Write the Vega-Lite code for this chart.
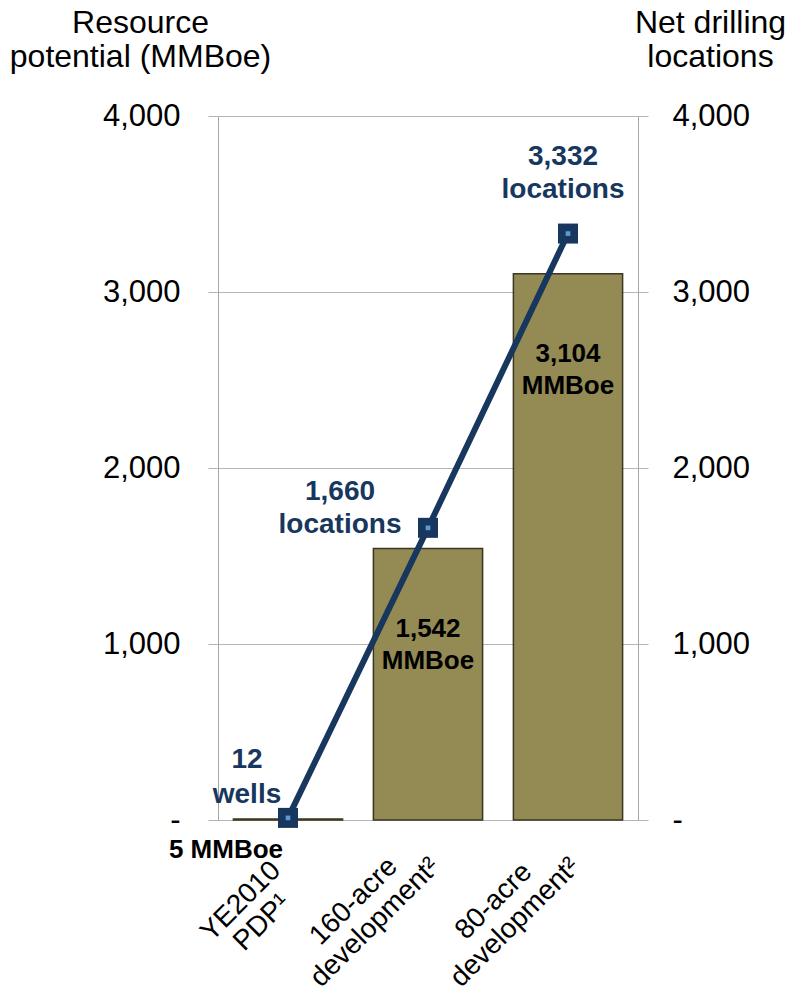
{
  "$schema": "https://vega.github.io/schema/vega-lite/v6.json",
  "width": 420,
  "height": 704,
  "autosize": {"type": "none"},
  "padding": {"left": 218, "top": 116, "right": 148, "bottom": 175},
  "background": "white",
  "config": {"view": {"stroke": null}, "font": "Liberation Sans"},
  "data": {
    "values": [
      {"category": "YE2010|PDP¹", "mmboe": 5, "locations": 12, "mmboe_label": "5 MMBoe", "loc_label": "12\nwells"},
      {"category": "160-acre|development²", "mmboe": 1542, "locations": 1660, "mmboe_label": "1,542\nMMBoe", "loc_label": "1,660\nlocations"},
      {"category": "80-acre|development²", "mmboe": 3104, "locations": 3332, "mmboe_label": "3,104\nMMBoe", "loc_label": "3,332\nlocations"}
    ]
  },
  "encoding": {
    "x": {
      "field": "category",
      "type": "nominal",
      "sort": null,
      "scale": {"paddingInner": 0.22, "paddingOuter": 0.11},
      "axis": {
        "title": null,
        "domain": false,
        "ticks": false,
        "labelAngle": -45,
        "labelAlign": "center",
        "labelBaseline": "middle",
        "labelFontSize": 28,
        "labelColor": "black",
        "labelPadding": 81,
        "labelLineHeight": 30,
        "labelOffset": {"condition": {"test": "datum.value == 'YE2010|PDP¹'", "value": -47}, "value": -74},
        "labelExpr": "split(datum.value, '|')"
      }
    }
  },
  "layer": [
    {
      "layer": [
        {
          "mark": {"type": "bar", "color": "#948A54", "stroke": "#3A3622", "strokeWidth": 1.5},
          "encoding": {
            "y": {
              "field": "mmboe",
              "type": "quantitative",
              "scale": {"domain": [0, 4000], "nice": false},
              "axis": {
                "orient": "left",
                "values": [0, 1000, 2000, 3000, 4000],
                "labelExpr": "datum.value == 0 ? '-' : format(datum.value, ',')",
                "labelFontSize": 31,
                "labelColor": "black",
                "labelPadding": 28,
                "tickSize": 10,
                "tickColor": "#b4b4b4",
                "domainColor": "#a6a6a6",
                "grid": true,
                "gridColor": "#b4b4b4",
                "title": ["Resource", "potential (MMBoe)"],
                "titleAngle": 0,
                "titleAlign": "center",
                "titleBaseline": "top",
                "titleX": -78,
                "titleY": -109,
                "titleFontSize": 32,
                "titleFontWeight": "normal",
                "titleColor": "black",
                "titleLineHeight": 34
              }
            }
          }
        },
        {
          "transform": [{"filter": "datum.mmboe > 100"}],
          "mark": {"type": "text", "lineBreak": "\n", "fontSize": 26, "fontWeight": "bold", "color": "black", "baseline": "middle", "lineHeight": 32, "dy": 80},
          "encoding": {
            "y": {"field": "mmboe", "type": "quantitative"},
            "text": {"field": "mmboe_label"}
          }
        },
        {
          "transform": [{"filter": "datum.mmboe <= 100"}],
          "mark": {"type": "text", "fontSize": 26, "fontWeight": "bold", "color": "black", "baseline": "middle", "dy": 31, "dx": -62},
          "encoding": {
            "y": {"field": "mmboe", "type": "quantitative"},
            "text": {"field": "mmboe_label"}
          }
        }
      ]
    },
    {
      "layer": [
        {
          "mark": {"type": "line", "color": "#17375E", "strokeWidth": 6},
          "encoding": {
            "y": {
              "field": "locations",
              "type": "quantitative",
              "scale": {"domain": [0, 4000], "nice": false},
              "axis": {
                "orient": "right",
                "values": [0, 1000, 2000, 3000, 4000],
                "labelExpr": "datum.value == 0 ? '-' : format(datum.value, ',')",
                "labelFontSize": 31,
                "labelColor": "black",
                "labelPadding": 24,
                "tickSize": 10,
                "tickColor": "#b4b4b4",
                "domainColor": "#a6a6a6",
                "grid": false,
                "title": ["Net drilling", "locations"],
                "titleAngle": 0,
                "titleAlign": "center",
                "titleBaseline": "top",
                "titleX": 72,
                "titleY": -109,
                "titleFontSize": 32,
                "titleFontWeight": "normal",
                "titleColor": "black",
                "titleLineHeight": 34
              }
            }
          }
        },
        {
          "mark": {"type": "point", "shape": "square", "size": 400, "filled": true, "color": "#17375E", "opacity": 1},
          "encoding": {"y": {"field": "locations", "type": "quantitative"}}
        },
        {
          "mark": {"type": "point", "shape": "square", "size": 22, "filled": true, "color": "#5B9BD5", "opacity": 1},
          "encoding": {"y": {"field": "locations", "type": "quantitative"}}
        },
        {
          "transform": [{"filter": "datum.locations < 100"}],
          "mark": {"type": "text", "lineBreak": "\n", "fontSize": 28, "fontWeight": "bold", "color": "#17375E", "baseline": "middle", "lineHeight": 35, "dx": -41, "dy": -58},
          "encoding": {"y": {"field": "locations", "type": "quantitative"}, "text": {"field": "loc_label"}}
        },
        {
          "transform": [{"filter": "datum.locations > 1000 && datum.locations < 2000"}],
          "mark": {"type": "text", "lineBreak": "\n", "fontSize": 28, "fontWeight": "bold", "color": "#17375E", "baseline": "middle", "lineHeight": 33, "dx": -88, "dy": -36},
          "encoding": {"y": {"field": "locations", "type": "quantitative"}, "text": {"field": "loc_label"}}
        },
        {
          "transform": [{"filter": "datum.locations > 3000"}],
          "mark": {"type": "text", "lineBreak": "\n", "fontSize": 28, "fontWeight": "bold", "color": "#17375E", "baseline": "middle", "lineHeight": 33, "dx": -5, "dy": -77},
          "encoding": {"y": {"field": "locations", "type": "quantitative"}, "text": {"field": "loc_label"}}
        }
      ]
    }
  ],
  "resolve": {"scale": {"y": "independent"}}
}
